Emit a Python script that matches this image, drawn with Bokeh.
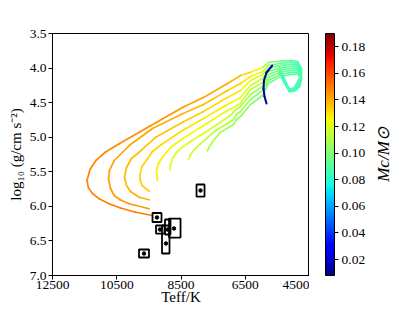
import numpy as np
from bokeh.plotting import figure
from bokeh.layouts import row
from bokeh.models import (Range1d, FixedTicker, ColorBar, LinearColorMapper, Label,
                          ColumnDataSource, NumeralTickFormatter, PrintfTickFormatter)
from bokeh.transform import linear_cmap
from bokeh.embed import file_html
from bokeh.resources import INLINE

MC_LOW, MC_HIGH = 0.008, 0.19
x_ticks = [12500, 10500, 8500, 6500, 4500]
y_ticks = [3.5, 4.0, 4.5, 5.0, 5.5, 6.0, 6.5, 7.0]
cb_ticks = [0.02, 0.04, 0.06, 0.08, 0.10, 0.12, 0.14, 0.16, 0.18]

# giant-branch loop part of each track (shared Teff, per-track log g)
loop_teff = [5433, 5278, 5122, 4967, 4811, 4749, 4873, 5091, 5402, 5776]
loop_mc = [0.083, 0.085, 0.086, 0.087, 0.088, 0.088, 0.089, 0.090, 0.093, 0.102]
loop_logg = [
    [3.977, 4.165, 4.310, 4.281, 4.151, 4.006, 3.905, 3.891, 3.898, 3.919],
    [3.992, 4.173, 4.314, 4.288, 4.168, 4.028, 3.931, 3.919, 3.930, 3.963],
    [4.006, 4.180, 4.319, 4.295, 4.186, 4.050, 3.957, 3.948, 3.961, 4.006],
    [4.021, 4.187, 4.323, 4.303, 4.203, 4.071, 3.983, 3.977, 3.993, 4.050],
    [4.035, 4.194, 4.327, 4.310, 4.220, 4.093, 4.009, 4.006, 4.025, 4.093],
    [4.050, 4.202, 4.332, 4.317, 4.238, 4.115, 4.035, 4.035, 4.057, 4.136],
    [4.064, 4.209, 4.336, 4.324, 4.255, 4.136, 4.061, 4.064, 4.089, 4.180],
    [4.079, 4.216, 4.340, 4.332, 4.272, 4.158, 4.087, 4.093, 4.120, 4.223],
]

# contraction part of each track
arm_teff = [
    [5963, 6336, 6648, 7052, 7799, 8453, 9449, 10424, 10850, 11152, 11333, 11426, 11379, 11255, 11037, 10735, 10383, 9916, 9387],
    [5963, 6336, 6648, 7052, 7799, 8453, 9387, 10112, 10579, 10726, 10757, 10694, 10579, 10383, 10112, 9490],
    [5963, 6336, 6648, 7052, 7799, 8453, 9284, 9801, 10041, 10196, 10259, 10196, 10072, 9801, 9490],
    [5963, 6336, 6648, 7052, 7799, 8453, 9076, 9387, 9543, 9714, 9782, 9761, 9698, 9490],
    [5963, 6336, 6648, 7052, 7799, 8453, 8827, 9076, 9200, 9262, 9253, 9231],
    [5963, 6336, 6648, 6834, 6928, 7052, 7799, 8204, 8453, 8640, 8764, 8827, 8842],
    [5963, 6336, 6648, 6772, 6865, 7052, 7426, 7706, 7893, 8080, 8204, 8266],
    [5963, 6336, 6648, 6772, 6865, 7021, 7270, 7488, 7612, 7684],
]
arm_logg = [
    [3.992, 4.060, 4.107, 4.223, 4.426, 4.570, 4.835, 5.095, 5.214, 5.337, 5.467, 5.626, 5.735, 5.814, 5.894, 5.963, 6.024, 6.085, 6.132],
    [4.050, 4.122, 4.223, 4.324, 4.527, 4.661, 4.874, 5.120, 5.337, 5.481, 5.601, 5.742, 5.843, 5.908, 5.963, 6.035],
    [4.093, 4.180, 4.324, 4.426, 4.628, 4.783, 5.000, 5.217, 5.308, 5.438, 5.578, 5.698, 5.785, 5.868, 5.905],
    [4.151, 4.252, 4.426, 4.527, 4.729, 4.903, 5.095, 5.207, 5.312, 5.424, 5.554, 5.641, 5.706, 5.781],
    [4.209, 4.310, 4.512, 4.614, 4.831, 5.023, 5.149, 5.289, 5.380, 5.481, 5.554, 5.626],
    [4.267, 4.382, 4.556, 4.614, 4.672, 4.715, 4.946, 5.062, 5.144, 5.221, 5.312, 5.395, 5.481],
    [4.324, 4.455, 4.628, 4.672, 4.744, 4.802, 4.903, 5.019, 5.095, 5.178, 5.250, 5.322],
    [4.397, 4.527, 4.700, 4.744, 4.816, 4.860, 4.927, 5.048, 5.134, 5.202],
]
arm_mc = [
    [0.122, 0.130, 0.136, 0.139, 0.142, 0.144, 0.146, 0.147, 0.147, 0.147, 0.148, 0.148, 0.148, 0.148, 0.148, 0.149, 0.149, 0.149, 0.149],
    [0.119, 0.126, 0.131, 0.134, 0.137, 0.139, 0.141, 0.142, 0.142, 0.143, 0.143, 0.143, 0.143, 0.144, 0.144, 0.144],
    [0.116, 0.122, 0.127, 0.130, 0.133, 0.135, 0.136, 0.137, 0.137, 0.138, 0.138, 0.138, 0.139, 0.139, 0.139],
    [0.112, 0.118, 0.123, 0.126, 0.129, 0.131, 0.132, 0.132, 0.133, 0.133, 0.133, 0.134, 0.134, 0.134],
    [0.108, 0.114, 0.118, 0.121, 0.124, 0.126, 0.127, 0.127, 0.128, 0.128, 0.128, 0.129],
    [0.104, 0.109, 0.113, 0.114, 0.115, 0.116, 0.119, 0.120, 0.121, 0.121, 0.122, 0.122, 0.122],
    [0.101, 0.105, 0.109, 0.110, 0.111, 0.112, 0.114, 0.115, 0.116, 0.116, 0.117, 0.117],
    [0.098, 0.101, 0.104, 0.105, 0.106, 0.107, 0.109, 0.110, 0.111, 0.112],
]

# low-mass track (dark blue arc)
low_teff = [5661, 5838, 5916, 5932, 5901, 5838]
low_logg = [3.963, 4.064, 4.180, 4.295, 4.411, 4.512]
low_mc = [0.012, 0.012, 0.012, 0.012, 0.012, 0.012]

# observed objects with error boxes
obs_teff = [9247, 9154, 8967, 8920, 8718, 9652, 7893]
obs_logg = [6.161, 6.335, 6.537, 6.335, 6.320, 6.682, 5.771]
obs_teff_hot = [9387, 9278, 9091, 8998, 8873, 9807, 8017]
obs_teff_cool = [9107, 9013, 8858, 8827, 8515, 9496, 7768]
obs_logg_lo = [6.096, 6.277, 6.277, 6.190, 6.176, 6.624, 5.684]
obs_logg_hi = [6.226, 6.393, 6.682, 6.407, 6.451, 6.740, 5.858]

# jet colormap
n = np.linspace(0, 1, 256)
r = np.interp(n, [0, 0.35, 0.66, 0.89, 1], [0, 0, 1, 1, 0.5])
g = np.interp(n, [0, 0.125, 0.375, 0.64, 0.91, 1], [0, 0, 1, 1, 0, 0])
b = np.interp(n, [0, 0.11, 0.34, 0.65, 1], [0.5, 1, 1, 0, 0])
jet = ["#%02x%02x%02x" % (int(round(255 * a)), int(round(255 * c)), int(round(255 * d)))
       for a, c, d in zip(r, g, b)]
mapper = LinearColorMapper(palette=jet, low=MC_LOW, high=MC_HIGH)

FONT = "Liberation Serif"
TICK_FS = "13.5px"

p = figure(frame_width=257, frame_height=242, output_backend="svg", toolbar_location=None,
           x_range=Range1d(12500, 4500), y_range=Range1d(7.0, 3.5),
           min_border_left=52, min_border_right=0, min_border_top=33, min_border_bottom=35)
p.xgrid.visible = False
p.ygrid.visible = False
p.outline_line_color = "black"
p.outline_line_alpha = 1.0
p.outline_line_width = 1
p.background_fill_color = "white"
p.border_fill_color = "white"

# segments of tracks
x0, y0, x1, y1, mcs = [], [], [], [], []
def add_track(T, G, M):
    for k in range(len(T) - 1):
        x0.append(T[k]); y0.append(G[k]); x1.append(T[k + 1]); y1.append(G[k + 1])
        mcs.append(0.5 * (M[k] + M[k + 1]))

for i in range(len(arm_teff)):
    add_track(loop_teff + arm_teff[i], loop_logg[i] + arm_logg[i], loop_mc + arm_mc[i])

src = ColumnDataSource(dict(x0=x0, y0=y0, x1=x1, y1=y1, mc=mcs))
p.segment("x0", "y0", "x1", "y1", source=src, line_width=1.7, line_cap="round",
          color=linear_cmap("mc", jet, MC_LOW, MC_HIGH))

lx0, ly0, lx1, ly1, lmc = [], [], [], [], []
for k in range(len(low_teff) - 1):
    lx0.append(low_teff[k]); ly0.append(low_logg[k]); lx1.append(low_teff[k + 1]); ly1.append(low_logg[k + 1])
    lmc.append(0.5 * (low_mc[k] + low_mc[k + 1]))
lsrc = ColumnDataSource(dict(x0=lx0, y0=ly0, x1=lx1, y1=ly1, mc=lmc))
p.segment("x0", "y0", "x1", "y1", source=lsrc, line_width=2.0, line_cap="round",
          color=linear_cmap("mc", jet, MC_LOW, MC_HIGH))

p.quad(left=obs_teff_hot, right=obs_teff_cool, top=obs_logg_lo, bottom=obs_logg_hi,
       fill_color=None, line_color="black", line_width=1.8)
p.scatter(obs_teff, obs_logg, size=3.5, color="black")

for ax in (p.xaxis[0], p.yaxis[0]):
    ax.major_tick_out = 4
    ax.major_tick_in = 0
    ax.minor_tick_line_color = None
    ax.axis_line_color = "black"
    ax.major_tick_line_color = "black"
    ax.major_label_text_font = FONT
    ax.major_label_text_font_size = TICK_FS
    ax.major_label_text_color = "black"
    ax.axis_label_text_font = FONT
    ax.axis_label_text_font_size = "15px"
    ax.axis_label_text_font_style = "normal"
    ax.axis_label_text_color = "black"

p.xaxis.ticker = FixedTicker(ticks=x_ticks)
p.xaxis.formatter = PrintfTickFormatter(format="%d")
p.xaxis.major_label_standoff = 1
p.xaxis.axis_label = "Teff/K"
p.xaxis.axis_label_standoff = -3
p.yaxis.ticker = FixedTicker(ticks=y_ticks)
p.yaxis.formatter = NumeralTickFormatter(format="0.0")
p.yaxis.major_label_standoff = 2
p.yaxis.axis_label = "log₁₀ (g/cm s⁻²)"
p.yaxis.axis_label_standoff = 3

# colour bar panel
p2 = figure(frame_width=72, frame_height=242, output_backend="svg", toolbar_location=None,
            x_range=Range1d(0, 1), y_range=Range1d(0, 1),
            x_axis_location=None, y_axis_location=None,
            min_border_left=16, min_border_right=4, min_border_top=33, min_border_bottom=35)
p2.grid.visible = False
p2.outline_line_color = None
p2.background_fill_color = "white"
p2.border_fill_color = "white"

cb = ColorBar(color_mapper=mapper, ticker=FixedTicker(ticks=cb_ticks),
              formatter=NumeralTickFormatter(format="0.00"),
              width=9, height=242, padding=0, margin=0, location=(0, 0),
              major_tick_in=0, major_tick_out=4, major_tick_line_color="black",
              bar_line_color="black", label_standoff=3, border_line_color=None,
              background_fill_alpha=0,
              major_label_text_font=FONT, major_label_text_font_size=TICK_FS,
              major_label_text_color="black")
p2.add_layout(cb)
p2.add_layout(Label(x=58, y=121, x_units="screen", y_units="screen", text="Mc/M⊙",
                    angle=90, angle_units="deg", text_align="center", text_baseline="middle",
                    text_font=FONT, text_font_size="17px", text_font_style="italic",
                    text_color="black"))

layout = row(p, p2)
open("out.html", "w").write(file_html(layout, INLINE))
